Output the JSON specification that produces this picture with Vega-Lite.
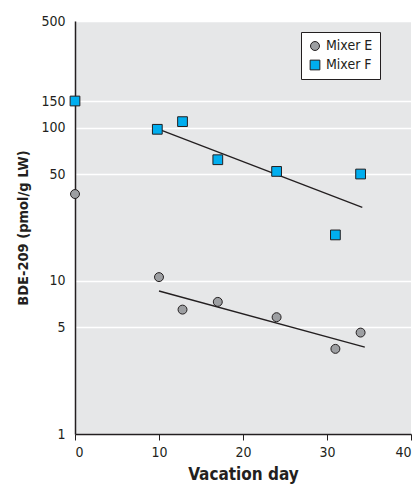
{
  "$schema": "https://vega.github.io/schema/vega-lite/v6.json",
  "autosize": "none",
  "width": 336,
  "height": 413,
  "padding": {"left": 75, "top": 21, "right": 7, "bottom": 51},
  "background": "white",
  "config": {
    "view": {"fill": "#e6e7e8", "stroke": null},
    "font": "Liberation Sans Narrow, DejaVu Sans Condensed, sans-serif",
    "axis": {"labelFont": "Liberation Sans Narrow, DejaVu Sans Condensed, sans-serif", "titleFont": "Liberation Sans Narrow, DejaVu Sans Condensed, sans-serif", "labelColor": "#231f20", "titleColor": "#231f20"},
    "legend": {"labelFont": "Liberation Sans Narrow, DejaVu Sans Condensed, sans-serif"}
  },
  "datasets": {
    "points": [
      {"series": "Mixer E", "day": 0, "value": 37},
      {"series": "Mixer E", "day": 10, "value": 10.6},
      {"series": "Mixer E", "day": 12.8, "value": 6.5},
      {"series": "Mixer E", "day": 17, "value": 7.3},
      {"series": "Mixer E", "day": 24, "value": 5.8},
      {"series": "Mixer E", "day": 31, "value": 3.6},
      {"series": "Mixer E", "day": 34, "value": 4.6},
      {"series": "Mixer F", "day": 0, "value": 150},
      {"series": "Mixer F", "day": 9.8, "value": 98},
      {"series": "Mixer F", "day": 12.8, "value": 110},
      {"series": "Mixer F", "day": 17, "value": 62},
      {"series": "Mixer F", "day": 24, "value": 52},
      {"series": "Mixer F", "day": 31, "value": 20},
      {"series": "Mixer F", "day": 34, "value": 50}
    ],
    "trends": [
      {"series": "Mixer E", "day": 10, "value": 8.6},
      {"series": "Mixer E", "day": 34.5, "value": 3.7},
      {"series": "Mixer F", "day": 10, "value": 98},
      {"series": "Mixer F", "day": 34.2, "value": 30.3}
    ]
  },
  "encoding": {
    "x": {
      "field": "day", "type": "quantitative",
      "scale": {"domain": [0, 40], "nice": false, "zero": false},
      "axis": {
        "values": [0, 10, 20, 30, 40], "grid": false,
        "domainColor": "#231f20", "domainWidth": 1.5,
        "tickColor": "#231f20", "tickSize": 6, "tickWidth": 1,
        "labelFontSize": 14, "labelPadding": 5,
        "title": "Vacation day", "titleFontSize": 17, "titleFontWeight": "bold", "titlePadding": 7
      }
    },
    "y": {
      "field": "value", "type": "quantitative",
      "scale": {"type": "log", "domain": [1, 500], "nice": false},
      "axis": {
        "values": [1, 5, 10, 50, 100, 150, 500], "format": "d",
        "grid": true, "gridColor": "white", "gridWidth": 1.5,
        "ticks": false, "domainColor": "#231f20", "domainWidth": 1.5,
        "labelFontSize": 14, "labelPadding": 10,
        "title": "BDE-209 (pmol/g LW)", "titleFontSize": 14.5, "titleFontWeight": "bold", "titlePadding": 10
      }
    }
  },
  "layer": [
    {
      "data": {"name": "trends"},
      "mark": {"type": "line", "color": "#231f20", "strokeWidth": 1.3},
      "encoding": {"detail": {"field": "series"}}
    },
    {
      "data": {"name": "points"},
      "mark": {"type": "point", "filled": true, "stroke": "#231f20", "strokeWidth": 1, "opacity": 1},
      "encoding": {
        "color": {
          "field": "series", "type": "nominal",
          "scale": {"domain": ["Mixer E", "Mixer F"], "range": ["#9d9fa2", "#00aeef"]},
          "legend": {
            "title": null, "orient": "none", "legendX": 226, "legendY": 11,
            "fillColor": "white", "strokeColor": "#231f20", "padding": 7,
            "labelFontSize": 14, "labelColor": "#231f20", "symbolSize": 55,
            "symbolStrokeColor": "#231f20", "symbolStrokeWidth": 1, "rowPadding": 5
          }
        },
        "shape": {
          "field": "series", "type": "nominal",
          "scale": {"domain": ["Mixer E", "Mixer F"], "range": ["circle", "square"]},
          "legend": null
        },
        "size": {
          "field": "series", "type": "nominal",
          "scale": {"domain": ["Mixer E", "Mixer F"], "range": [80, 95]},
          "legend": null
        }
      }
    }
  ]
}
